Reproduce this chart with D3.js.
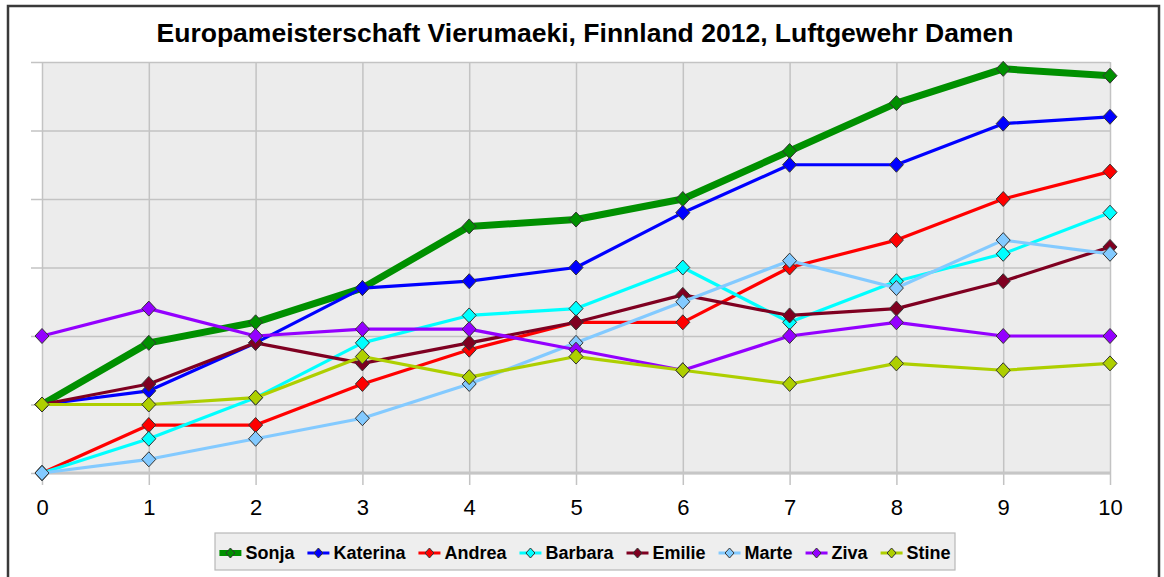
<!DOCTYPE html>
<meta charset="utf-8">
<html lang="de">
<style>
body { margin: 0; background: #fff; }
svg { display: block; font-family: "Liberation Sans", Arial, sans-serif; }
.grid line { stroke: #c3c3c3; stroke-width: 1.5px; }
.grid path { display: none; }
.line { fill: none; }
.dot { stroke: #333; stroke-width: 1px; }
</style>
<body>
<script src="https://d3js.org/d3.v7.min.js"></script>
<script>

// rounds (x axis)
var rounds = [0, 1, 2, 3, 4, 5, 6, 7, 8, 9, 10];

// series, in legend order
var names  = ["Sonja", "Katerina", "Andrea", "Barbara", "Emilie", "Marte", "Ziva", "Stine"];
var colors = ["#009000", "#0000ff", "#ff0000", "#00ffff", "#7f0021", "#83caff", "#9400ff", "#aecf00"];

var sonja    = [1.0, 1.9, 2.2, 2.7, 3.6, 3.7, 4.0, 4.7, 5.4, 5.9, 5.8];
var katerina = [1.0, 1.2, 1.9, 2.7, 2.8, 3.0, 3.8, 4.5, 4.5, 5.1, 5.2];
var andrea   = [0.0, 0.7, 0.7, 1.3, 1.8, 2.2, 2.2, 3.0, 3.4, 4.0, 4.4];
var barbara  = [0.0, 0.5, 1.1, 1.9, 2.3, 2.4, 3.0, 2.2, 2.8, 3.2, 3.8];
var emilie   = [1.0, 1.3, 1.9, 1.6, 1.9, 2.2, 2.6, 2.3, 2.4, 2.8, 3.3];
var marte    = [0.0, 0.2, 0.5, 0.8, 1.3, 1.9, 2.5, 3.1, 2.7, 3.4, 3.2];
var ziva     = [2.0, 2.4, 2.0, 2.1, 2.1, 1.8, 1.5, 2.0, 2.2, 2.0, 2.0];
var stine    = [1.0, 1.0, 1.1, 1.7, 1.4, 1.7, 1.5, 1.3, 1.6, 1.5, 1.6];

var values = [sonja, katerina, andrea, barbara, emilie, marte, ziva, stine];
var yLevels = [0, 1, 2, 3, 4, 5, 6];

var title = "Europameisterschaft Vierumaeki, Finnland 2012, Luftgewehr Damen";

var W = 1164, H = 577;
var plot = {left: 42, right: 1110, top: 62, bottom: 473};

var svg = d3.select("body").append("svg")
    .attr("width", W)
    .attr("height", H);

// outer frame
svg.append("rect")
    .attr("x", 8).attr("y", 6)
    .attr("width", 1151).attr("height", 590)
    .attr("fill", "#fff")
    .attr("stroke", "#3a3a3a")
    .attr("stroke-width", 2.5);

// title
var t = svg.append("text")
    .attr("x", 585).attr("y", 42)
    .attr("text-anchor", "middle")
    .style("font-size", "25px")
    .style("font-weight", "bold")
    .text(title);
t.attr("textLength", 857).attr("lengthAdjust", "spacingAndGlyphs");

var x = d3.scaleLinear().domain([0, 10]).range([plot.left, plot.right]);
var y = d3.scaleLinear().domain([0, 6]).range([plot.bottom, plot.top]);

// plot background
svg.append("rect")
    .attr("x", plot.left).attr("y", plot.top)
    .attr("width", plot.right - plot.left)
    .attr("height", plot.bottom - plot.top)
    .attr("fill", "#ececec");

// horizontal grid + left ticks (no labels)
svg.append("g")
    .attr("class", "grid")
    .attr("transform", "translate(31,0)")
    .call(d3.axisLeft(y).tickValues(yLevels).tickFormat("")
        .tickSize(-(plot.right - 31)).tickSizeOuter(0));

// vertical grid + x labels
var xa = svg.append("g")
    .attr("class", "grid")
    .attr("transform", "translate(0,485)")
    .call(d3.axisBottom(x).tickValues(rounds).tickFormat(d3.format("d"))
        .tickSize(-(485 - plot.top)).tickSizeOuter(0).tickPadding(14));
xa.selectAll("text")
    .style("font-size", "22px")
    .style("font-family", "'Liberation Sans', Arial, sans-serif")
    .attr("fill", "#000");

// bottom axis line
svg.append("line")
    .attr("x1", plot.left).attr("x2", plot.right)
    .attr("y1", plot.bottom).attr("y2", plot.bottom)
    .attr("stroke", "#c6c6c6").attr("stroke-width", 3);

var line = d3.line()
    .x(function(d, i) { return x(rounds[i]); })
    .y(function(d) { return y(d); });

function diamond(cx, cy, w, h) {
  return "M" + cx + "," + (cy - h / 2) + "L" + (cx + w / 2) + "," + cy +
         "L" + cx + "," + (cy + h / 2) + "L" + (cx - w / 2) + "," + cy + "Z";
}

// lines and markers, one series after another
values.forEach(function(vals, s) {
  var g = svg.append("g");
  g.append("path")
      .datum(vals)
      .attr("class", "line")
      .attr("stroke", colors[s])
      .attr("stroke-width", s === 0 ? 7 : 3.2)
      .attr("stroke-linejoin", "round")
      .attr("d", line);
  g.selectAll(".dot")
      .data(vals)
      .enter().append("path")
      .attr("class", "dot")
      .attr("fill", colors[s])
      .attr("d", function(d, i) { return diamond(x(rounds[i]), y(d), 14, 15); });
});

// legend
var legend = svg.append("g");
legend.append("rect")
    .attr("x", 215).attr("y", 533)
    .attr("width", 740).attr("height", 37)
    .attr("fill", "#eeeeee")
    .attr("stroke", "#b8b8b8")
    .attr("stroke-width", 1.2);

var items = legend.selectAll(".item")
    .data(names)
    .enter().append("g")
    .attr("class", "item");

items.append("text")
    .attr("y", 559)
    .style("font-size", "18px")
    .style("font-weight", "bold")
    .text(function(d) { return d; });

var widths = [];
items.select("text").each(function() { widths.push(this.getComputedTextLength()); });

var symW = 22, gap = 4, spacing = 13;
var total = d3.sum(widths) + names.length * (symW + gap) + (names.length - 1) * spacing;
var cur = 585 - total / 2;
items.each(function(d, i) {
  var it = d3.select(this);
  var sx = cur;
  it.insert("line", "text")
      .attr("x1", sx).attr("x2", sx + symW)
      .attr("y1", 553).attr("y2", 553)
      .attr("stroke", colors[i])
      .attr("stroke-width", i === 0 ? 6 : 3);
  it.insert("path", "text")
      .attr("class", "dot")
      .attr("fill", colors[i])
      .attr("stroke-width", 0.8)
      .attr("d", diamond(sx + symW / 2, 553, 9, 10));
  it.select("text").attr("x", sx + symW + gap);
  cur += symW + gap + widths[i] + spacing;
});

</script>
</body>
</html>
